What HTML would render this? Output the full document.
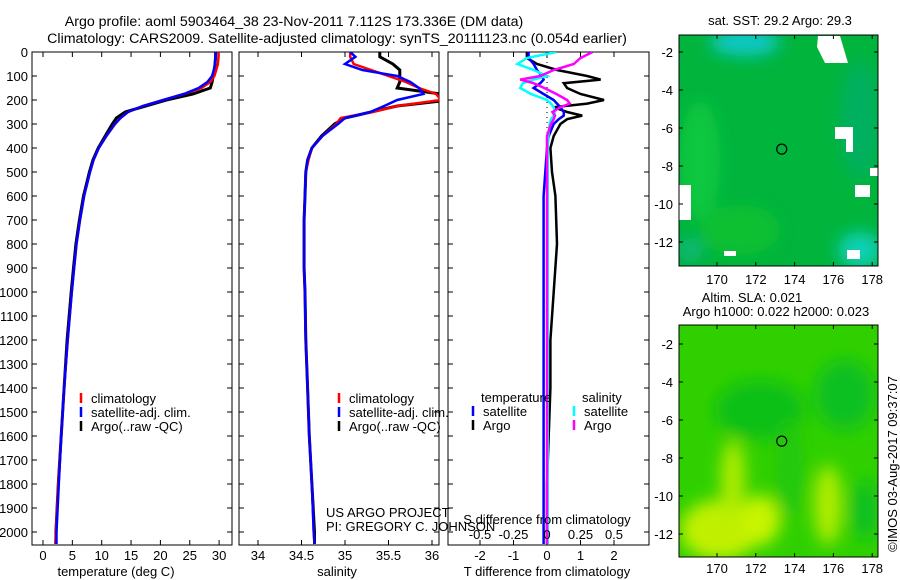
<!DOCTYPE html>
<html><head><meta charset="utf-8"><style>
body{margin:0;background:#fff;}
svg{display:block;font-family:"Liberation Sans",sans-serif;}
text{font-size:13px;fill:#000;}
.ttl{font-size:14.2px;}
</style></head><body>
<svg id="chart" width="900" height="580" viewBox="0 0 900 580" xmlns="http://www.w3.org/2000/svg">
<defs>
<filter id="blur1" x="-50%" y="-50%" width="200%" height="200%"><feGaussianBlur stdDeviation="8"/></filter>
<clipPath id="cm1"><rect x="679" y="35" width="199" height="231"/></clipPath>
<clipPath id="cm2"><rect x="679" y="325" width="199" height="232"/></clipPath>
<clipPath id="cp1"><rect x="32" y="52" width="200" height="493"/></clipPath>
<clipPath id="cp2"><rect x="239" y="52" width="200" height="493"/></clipPath>
<clipPath id="cp3"><rect x="448" y="52" width="201" height="493"/></clipPath>
</defs>
<text class="ttl" x="294" y="26" text-anchor="middle">Argo profile: aoml 5903464_38 23-Nov-2011 7.112S 173.336E (DM data)</text>
<text class="ttl" x="337" y="43" text-anchor="middle">Climatology: CARS2009. Satellite-adjusted climatology: synTS_20111123.nc (0.054d earlier)</text>

<g id="map1">
<g clip-path="url(#cm1)">
<rect x="679" y="35" width="199" height="231" fill="#00b43c"/>
<g filter="url(#blur1)">
<ellipse cx="745" cy="42" rx="35" ry="14" fill="#10c8c8"/>
<ellipse cx="860" cy="250" rx="22" ry="18" fill="#10d0b8"/>
<ellipse cx="700" cy="160" rx="20" ry="60" fill="#10c840"/>
<ellipse cx="860" cy="120" rx="20" ry="60" fill="#00b060"/>
<ellipse cx="740" cy="230" rx="40" ry="25" fill="#10c030"/>
<ellipse cx="690" cy="250" rx="12" ry="12" fill="#10b880"/>
</g>
<polygon points="818,36 840,36 848,63 825,63 817,47" fill="#fff"/>
<rect x="835" y="127" width="18" height="12" fill="#fff"/><rect x="846" y="130" width="7" height="22" fill="#fff"/>
<rect x="855" y="185" width="15" height="12" fill="#fff"/>
<rect x="679" y="185" width="12" height="35" fill="#fff"/>
<rect x="724" y="251" width="12" height="5" fill="#fff"/>
<rect x="847" y="250" width="13" height="9" fill="#fff"/>
<rect x="870" y="168" width="8" height="8" fill="#fff"/>
</g>
<rect x="679" y="35" width="199" height="231" fill="none" stroke="#000"/>
</g>
<g id="map2">
<g clip-path="url(#cm2)">
<rect x="679" y="325" width="199" height="232" fill="#30d000"/>
<g filter="url(#blur1)">
<ellipse cx="760" cy="410" rx="45" ry="30" fill="#10c018"/>
<ellipse cx="845" cy="395" rx="30" ry="35" fill="#10c020"/>
<ellipse cx="720" cy="530" rx="40" ry="30" fill="#c0f000"/>
<ellipse cx="760" cy="520" rx="20" ry="25" fill="#c8f400"/>
<ellipse cx="733" cy="480" rx="12" ry="40" fill="#b0ec00"/>
<ellipse cx="828" cy="505" rx="14" ry="40" fill="#b0ec00"/>
<ellipse cx="865" cy="510" rx="14" ry="30" fill="#10c020"/>
<ellipse cx="790" cy="470" rx="14" ry="50" fill="#20c810"/>
</g>
</g>
<rect x="679" y="325" width="199" height="232" fill="none" stroke="#000"/>
</g>
<g id="layer"></g>
</svg>
<script>
// ---- profile data ----
const depths = [0,20,50,75,100,125,150,175,200,225,250,275,300,350,400,450,500,600,700,800,900,1000,1200,1400,1600,1800,2000,2050];
const tempClim = [29.9,29.9,29.8,29.5,29.2,28.5,27,24,20.5,17,14.5,13.2,12.3,10.8,9.5,8.6,8.0,7.0,6.3,5.7,5.3,4.9,4.2,3.6,3.1,2.6,2.2,2.1];
const tempSat  = [29.4,29.4,29.3,29.1,28.8,28.0,26.5,24,20.5,17,14.5,13.2,12.2,10.8,9.5,8.6,8.0,7.0,6.3,5.7,5.3,4.9,4.2,3.6,3.1,2.7,2.3,2.3];
const tempArgo = [29.4,29.4,29.3,29.2,29.0,28.8,28.5,25.5,21,17.5,14,12.5,11.8,10.6,9.4,8.5,7.9,6.9,6.2,5.6,5.2,4.8,4.1,3.6,3.1,2.6,2.2,2.2];
const salClim = [35.06,35.06,35.1,35.3,35.5,35.7,35.85,36.05,36.1,35.6,35.32,34.95,34.9,34.74,34.62,34.58,34.55,34.54,34.53,34.53,34.53,34.54,34.55,34.57,34.59,34.62,34.64,34.65];
const salSat  = [35.06,35.12,35.0,35.2,35.6,35.75,35.85,35.9,35.6,35.45,35.29,35.0,34.92,34.74,34.62,34.57,34.55,34.54,34.53,34.53,34.53,34.54,34.55,34.57,34.59,34.62,34.64,34.65];
const salArgo = [35.4,35.4,35.55,35.63,35.63,35.63,35.6,36.1,36.2,35.6,35.3,35.0,34.88,34.73,34.62,34.57,34.55,34.54,34.53,34.53,34.53,34.54,34.55,34.57,34.59,34.62,34.65,34.65];
// ---- difference data ----
const diffDepths = [0,25,50,75,100,115,130,150,175,200,215,230,250,265,280,300,350,400,500,600,800,1000,1200,1400,1600,1800,2000,2050];
const dTArgo = [-0.6,-0.6,-0.3,0.3,1.2,1.6,0.5,0.6,1.0,1.7,1.2,0.2,0.6,1.05,0.6,0.4,0.2,0.1,0.15,0.25,0.3,0.2,0.1,0.1,0.05,0.0,0.0,0.0];
const dTSat  = [-0.55,-0.55,-0.4,-0.3,-0.15,-0.1,-0.2,-0.4,-0.1,0.2,0.3,0.4,0.5,0.5,0.35,0.2,0.05,0.0,-0.05,-0.1,-0.1,-0.1,-0.1,-0.1,-0.1,-0.1,-0.1,-0.1];
const dSSat  = [0.07,-0.15,-0.22,-0.1,0,-0.1,-0.18,-0.2,-0.12,0,0.03,0.05,0.06,0.05,0.03,0.02,0.01,0.005,0.005,0.005,0.005,0.005,0.005,0.005,0.005,0.005,0.005,0.005];
const dSArgo = [0.34,0.25,0.2,0.05,-0.05,-0.2,-0.1,-0.02,0.07,0.15,0.17,0.1,0.04,0.06,0.05,0.03,0.0,0.0,0.0,0.0,0.0,0.0,0.0,0.0,0.0,0.0,0.0,0.0];
// ---- tick labels ----
const depthTicks = [0,100,200,300,400,500,600,700,800,900,1000,1100,1200,1300,1400,1500,1600,1700,1800,1900,2000];
const tempTicks = [0,5,10,15,20,25,30];
const salTicks = ["34","34.5","35","35.5","36"];
const tDiffTicks = [-2,-1,0,1,2];
const sDiffTicks = ["-0.5","-0.25","0","0.25","0.5"];
const lonTicks = [170,172,174,176,178];
const latTicks = [-2,-4,-6,-8,-10,-12];
const argoLon = 173.336, argoLat = -7.112;

const NS="http://www.w3.org/2000/svg";
const layer=document.getElementById('layer');
function mk(tag,attrs,parent){const e=document.createElementNS(NS,tag);for(const k in attrs)e.setAttribute(k,attrs[k]);(parent||layer).appendChild(e);return e;}
function txt(s,x,y,anchor,parent){const t=mk('text',{x:x,y:y,'text-anchor':anchor||'start'},parent);t.textContent=s;return t;}

const yD = d => 52 + d*0.24;
const xT = v => 43 + v*5.87;
const xS = v => 258 + (v-34)*87;
const xDT = v => 547 + v*33.5;
const xDS = v => 547 + v*134;

function frame(x0,x1,name){
  const r=mk('rect',{x:x0,y:52,width:x1-x0,height:493,fill:'none',stroke:'#000','stroke-width':1});
  
  
  depthTicks.forEach(d=>{
    mk('line',{x1:x0,x2:x0+5,y1:yD(d),y2:yD(d),stroke:'#000'});
    mk('line',{x1:x1-5,x2:x1,y1:yD(d),y2:yD(d),stroke:'#000'});
  });
}
function xticks(xs){xs.forEach(x=>{mk('line',{x1:x,x2:x,y1:52,y2:57,stroke:'#000'});mk('line',{x1:x,x2:x,y1:540,y2:545,stroke:'#000'});});}
function line(xs,ds,fx,color,clip,name,w){
  const p=xs.map((v,i)=>fx(v).toFixed(1)+','+yD(ds[i]).toFixed(1)).join(' ');
  const e=mk('polyline',{points:p,fill:'none',stroke:color,'stroke-width':w||2.5,'clip-path':'url(#'+clip+')'});
  
  
}
function legend(x,y,items){
  items.forEach((it,i)=>{
    mk('line',{x1:x,x2:x,y1:y+i*14-10,y2:y+i*14,stroke:it[1],'stroke-width':2.5});
    const t=txt(it[0],x+10,y+i*14);
    
    
  });
}

// panel 1
frame(32,232,'temperature-panel');
xticks(tempTicks.map(xT));
depthTicks.forEach(d=>{const t=txt(String(d),28,yD(d)+5,'end');});
tempTicks.forEach(v=>txt(String(v),xT(v),560,'middle'));
txt('temperature (deg C)',116,576,'middle');
line(tempArgo,depths,xT,'#000','cp1','temp-argo-line',3);
line(tempClim,depths,xT,'#f00','cp1','temp-clim-line');
line(tempSat,depths,xT,'#00f','cp1','temp-sat-line');
legend(81,403,[['climatology','#f00'],['satellite-adj. clim.','#00f'],['Argo(..raw -QC)','#000']]);

// panel 2
frame(239,439,'salinity-panel');
xticks(salTicks.map(s=>xS(+s)));
salTicks.forEach(s=>txt(s,xS(+s),560,'middle'));
txt('salinity',337,576,'middle');
line(salArgo,depths,xS,'#000','cp2','sal-argo-line',3);
line(salClim,depths,xS,'#f00','cp2','sal-clim-line');
line(salSat,depths,xS,'#00f','cp2','sal-sat-line');
legend(339,403,[['climatology','#f00'],['satellite-adj. clim.','#00f'],['Argo(..raw -QC)','#000']]);
txt('US ARGO PROJECT',326,517);
txt('PI: GREGORY C. JOHNSON',326,531);

// panel 3
frame(448,649,'difference-panel');
xticks(tDiffTicks.map(xDT));
mk('line',{x1:547,x2:547,y1:52,y2:yD(420),stroke:'#000','stroke-dasharray':'1,4'});
line(dTArgo,diffDepths,xDT,'#000','cp3','tdiff-argo-line');
line(dTSat,diffDepths,xDT,'#00f','cp3','tdiff-sat-line');
line(dSSat,diffDepths,xDS,'#0ff','cp3','sdiff-sat-line');
line(dSArgo,diffDepths,xDS,'#f0f','cp3','sdiff-argo-line');
txt('temperature',481,402);
legend(473,416,[['satellite','#00f'],['Argo','#000']]);
txt('salinity',582,402);
legend(574,416,[['satellite','#0ff'],['Argo','#f0f']]);
txt('S difference from climatology',547,524,'middle');
sDiffTicks.forEach(s=>txt(s,xDS(+s),539,'middle'));
tDiffTicks.forEach(v=>txt(String(v),xDT(v),560,'middle'));
txt('T difference from climatology',547,576,'middle');

// maps
const xLon = v => 717 + (v-170)*19.4;
function mapAxes(top,bottom,y2,labelY){
  const yL = v => y2 + (-2 - v)*19;
  lonTicks.forEach(v=>{
    mk('line',{x1:xLon(v),x2:xLon(v),y1:top,y2:top+4,stroke:'#000'});
    mk('line',{x1:xLon(v),x2:xLon(v),y1:bottom-4,y2:bottom,stroke:'#000'});
    txt(String(v),xLon(v),labelY,'middle');
  });
  latTicks.forEach(v=>{
    mk('line',{x1:679,x2:683,y1:yL(v),y2:yL(v),stroke:'#000'});
    mk('line',{x1:874,x2:878,y1:yL(v),y2:yL(v),stroke:'#000'});
    txt(String(v),673,yL(v)+5,'end');
  });
  const c=mk('circle',{cx:xLon(argoLon),cy:yL(argoLat),r:5,fill:'none',stroke:'#000','stroke-width':1.2});
  
  
}
mapAxes(35,266,52,284);
mapAxes(325,557,344,573);
txt('sat. SST: 29.2  Argo: 29.3',780,25,'middle');
txt('Altim. SLA: 0.021',752,302,'middle');
txt('Argo h1000: 0.022 h2000: 0.023',776,316,'middle');
const r=txt('©IMOS 03-Aug-2017 09:37:07',0,0,'middle');
r.setAttribute('transform','translate(897,464) rotate(-90)');


</script>
</body></html>
